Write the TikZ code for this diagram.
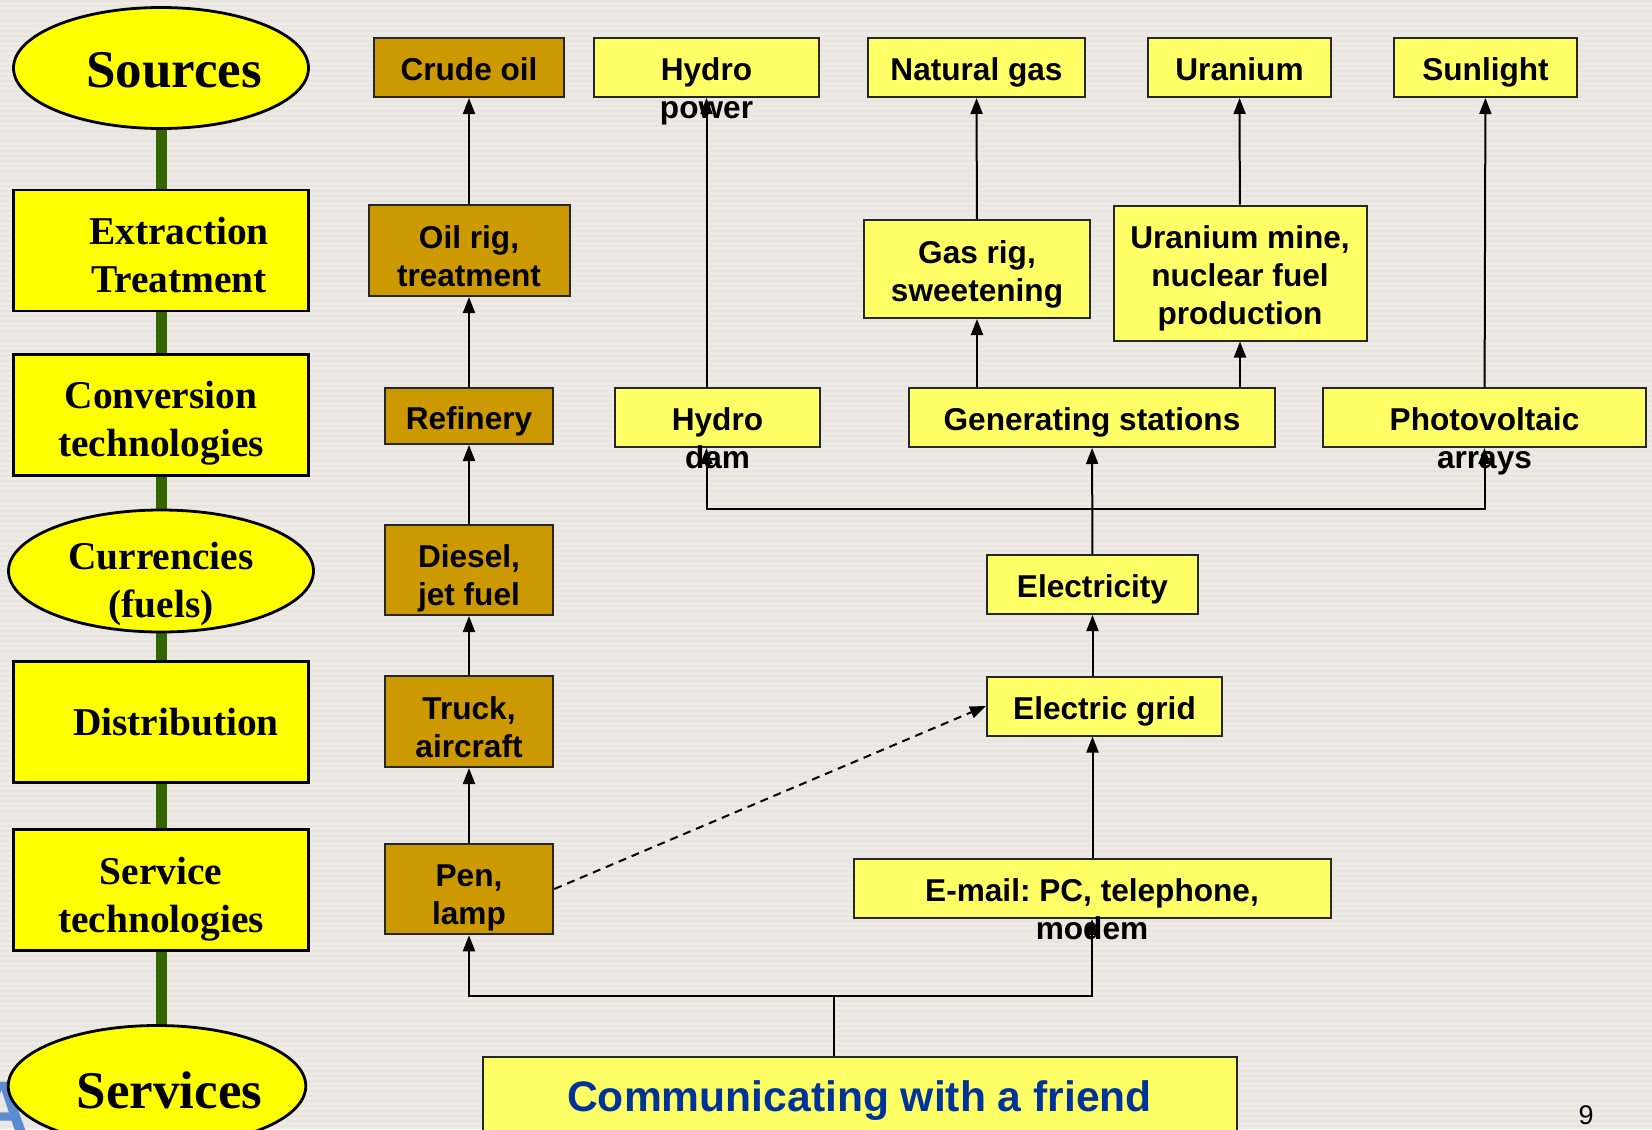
\documentclass[tikz,border=0pt]{standalone}
\usepackage{fontspec}
\setmainfont{Liberation Sans}
\newfontfamily\timesfont{Liberation Serif}
\usepackage{tikz}
\usetikzlibrary{arrows.meta, positioning, shapes.geometric, backgrounds}
\definecolor{slidegray}{HTML}{EDEAE6}
\definecolor{slidestripe}{HTML}{E8E5E0}
\definecolor{stageyellow}{HTML}{FFFF00}
\definecolor{boxyellow}{HTML}{FFFF66}
\definecolor{oilbrown}{HTML}{CC9900}
\definecolor{spinegreen}{HTML}{336600}
\definecolor{friendblue}{HTML}{003399}
\definecolor{logoblue}{HTML}{5B8BD0}
\tikzset{
    stage/.style={rectangle, draw=black, line width=1.4pt, fill=stageyellow, minimum width=147.5pt, minimum height=60.5pt, inner sep=0pt, text height=13.4pt, text depth=0pt, font=\timesfont\bfseries\fontsize{19.7}{24}\selectfont},
    stageoval/.style={stage, ellipse},
    bigstage/.style={font=\timesfont\bfseries\fontsize{26.5}{30}\selectfont},
    stagetwo/.style={text height=#1, text depth=24pt},
    oilbox/.style={rectangle, draw=black!85, line width=1pt, fill=oilbrown, inner sep=0pt, text height=13.4pt, text depth=0pt, font=\bfseries\fontsize{15.8}{19}\selectfont},
    elbox/.style={oilbox, fill=boxyellow},
    tworow/.style={text height=#1, text depth=19pt},
    threerow/.style={text height=#1, text depth=38pt},
    arrow/.style={-{Triangle[length=8pt,width=6pt]}, line width=1pt},
    link/.style={line width=1pt},
    dashedarrow/.style={arrow, dash pattern=on 4pt off 3pt},
    spine/.style={line width=5.5pt, draw=spinegreen}
}
\newcommand{\boxlines}[1]{\begin{tabular}[t]{@{}c@{}}#1\end{tabular}}
\frenchspacing

\begin{document}
\begin{tikzpicture}[x=0.5pt, y=-0.5pt]
    \useasboundingbox (0,0) rectangle (1652,1129);
    % stages
    \node[stageoval, bigstage, minimum width=147.5pt, text height=19.5pt] (sources) at (161,68) {\hspace*{13pt}Sources};
    \node[stage, stagetwo=17.8pt] (extract) at (161,250.5) {\boxlines{\hspace*{18pt}Extraction\\\hspace*{18pt}Treatment}};
    \node[stage, stagetwo=17.5pt] (convert) at (161,415) {\boxlines{Conversion\\technologies}};
    \node[stageoval, stagetwo=22.3pt, inner ysep=-3pt, minimum width=152.5pt, minimum height=61pt] (fuels) at (161,571) {\boxlines{Currencies\\(fuels)}};
    \node[stage] (distrib) at (161,722) {\hspace*{15pt}Distribution};
    \node[stage, stagetwo=18.5pt] (servtech) at (161,890) {\boxlines{Service\\technologies}};
    \node[text=logoblue, font=\bfseries\fontsize{38}{40}\selectfont] (logo) at (2,1108) {A};
    \node[stageoval, bigstage, minimum width=146.5pt, text height=22.7pt] (services) at (157,1086) {\hspace*{12.5pt}Services};

    % oil chain
    \node[oilbox, minimum width=95pt, minimum height=29.5pt] (crude) at (469,67.5) {Crude oil};
    \node[oilbox, tworow=16.8pt, minimum width=100.5pt, minimum height=45.5pt] (oilrig) at (469,250.5) {\boxlines{Oil rig,\\treatment}};
    \node[oilbox, minimum width=84.25pt, minimum height=28pt] (refinery) at (469,416) {Refinery};
    \node[oilbox, tworow=16.8pt, minimum width=84.25pt, minimum height=45pt] (diesel) at (469,570) {\boxlines{Diesel,\\jet fuel}};
    \node[oilbox, tworow=16.8pt, minimum width=84.25pt, minimum height=45.5pt] (truck) at (469,721.5) {\boxlines{Truck,\\aircraft}};
    \node[oilbox, tworow=16.8pt, minimum width=84.25pt, minimum height=45.25pt] (pen) at (469,889) {\boxlines{Pen,\\lamp}};

    % electricity chain
    \node[elbox, minimum width=112.5pt, minimum height=29.5pt] (hydrop) at (706.5,67.5) {\boxlines{Hydro\\power}};
    \node[elbox, minimum width=108.5pt, minimum height=29.5pt] (natgas) at (976.5,67.5) {Natural gas};
    \node[elbox, minimum width=91.5pt, minimum height=29.5pt] (uranium) at (1239.5,67.5) {Uranium};
    \node[elbox, minimum width=91.5pt, minimum height=29.5pt] (sun) at (1485.5,67.5) {Sunlight};
    \node[elbox, tworow=13pt, minimum width=112.75pt, minimum height=49pt] (gasrig) at (977,269) {\boxlines{Gas rig,\\sweetening}};
    \node[elbox, threerow=13pt, minimum width=126.5pt, minimum height=67.5pt] (umine) at (1240,273) {\boxlines{Uranium mine,\\nuclear fuel\\production}};
    \node[elbox, minimum width=102.5pt, minimum height=29.5pt] (dam) at (717.5,417.5) {\boxlines{Hydro\\dam}};
    \node[elbox, minimum width=183pt, minimum height=29.5pt] (gen) at (1092,417.5) {Generating stations};
    \node[elbox, minimum width=161.5pt, minimum height=29.5pt] (pv) at (1484.5,417.5) {\boxlines{Photovoltaic\\arrays}};
    \node[elbox, minimum width=105.5pt, minimum height=29.5pt] (elec) at (1092.5,584.5) {Electricity};
    \node[elbox, minimum width=117.5pt, minimum height=29.5pt] (grid) at (1104.5,706) {Electric grid};
    \node[elbox, minimum width=238.5pt, minimum height=29.5pt] (email) at (1092,888.5) {\boxlines{E-mail: PC, telephone,\\modem}};
    \node[elbox, minimum width=377pt, minimum height=39pt, text height=15.2pt, text=friendblue, font=\bfseries\fontsize{21.3}{25}\selectfont] (friend) at (859.5,1096) {Communicating with a friend};

    \node[font=\fontsize{13.5}{15}\selectfont] (pageno) at (1586,1115) {9};

    \coordinate (bus) at (1092.5,509);
    \coordinate (fork) at (833.5,995.5);

    % oil arrows
    \draw[arrow] (oilrig) -- (crude);
    \draw[arrow] (refinery) -- (oilrig);
    \draw[arrow] (diesel) -- (refinery);
    \draw[arrow] (truck) -- (diesel);
    \draw[arrow] (pen) -- (truck);

    % electricity arrows
    \draw[arrow] (dam.north -| hydrop) -- (hydrop.south);
    \draw[arrow] (gasrig) -- (natgas);
    \draw[arrow] (umine) -- (uranium);
    \draw[arrow] (pv) -- (sun);
    \draw[arrow] (gen.north -| gasrig) -- (gasrig.south);
    \draw[arrow] (gen.north -| umine) -- (umine.south);
    \draw[arrow] (elec) -- (gen);
    \draw[arrow] (bus) -| (hydrop |- dam.south);
    \draw[arrow] (bus) -| (pv.south);
    \draw[arrow] (grid.north -| elec) -- (elec.south);
    \draw[arrow] (email.north -| elec) -- (grid.south -| elec);
    \draw[dashedarrow] (pen.east) -- (grid.west);

    % service split
    \draw[link] (fork |- friend.north) -- (fork);
    \draw[arrow] (fork) -| (pen.south);
    \draw[arrow] (fork) -| (email.south);

    \begin{scope}[on background layer]
        \fill[slidegray] (0,0) rectangle (1652,1129);
        \foreach \y in {0,5,...,1125}
            \fill[slidestripe] (0,\y) rectangle (1652,\y+2);
        \draw[spine] (sources) -- (sources |- services);
    \end{scope}
\end{tikzpicture}
\end{document}
